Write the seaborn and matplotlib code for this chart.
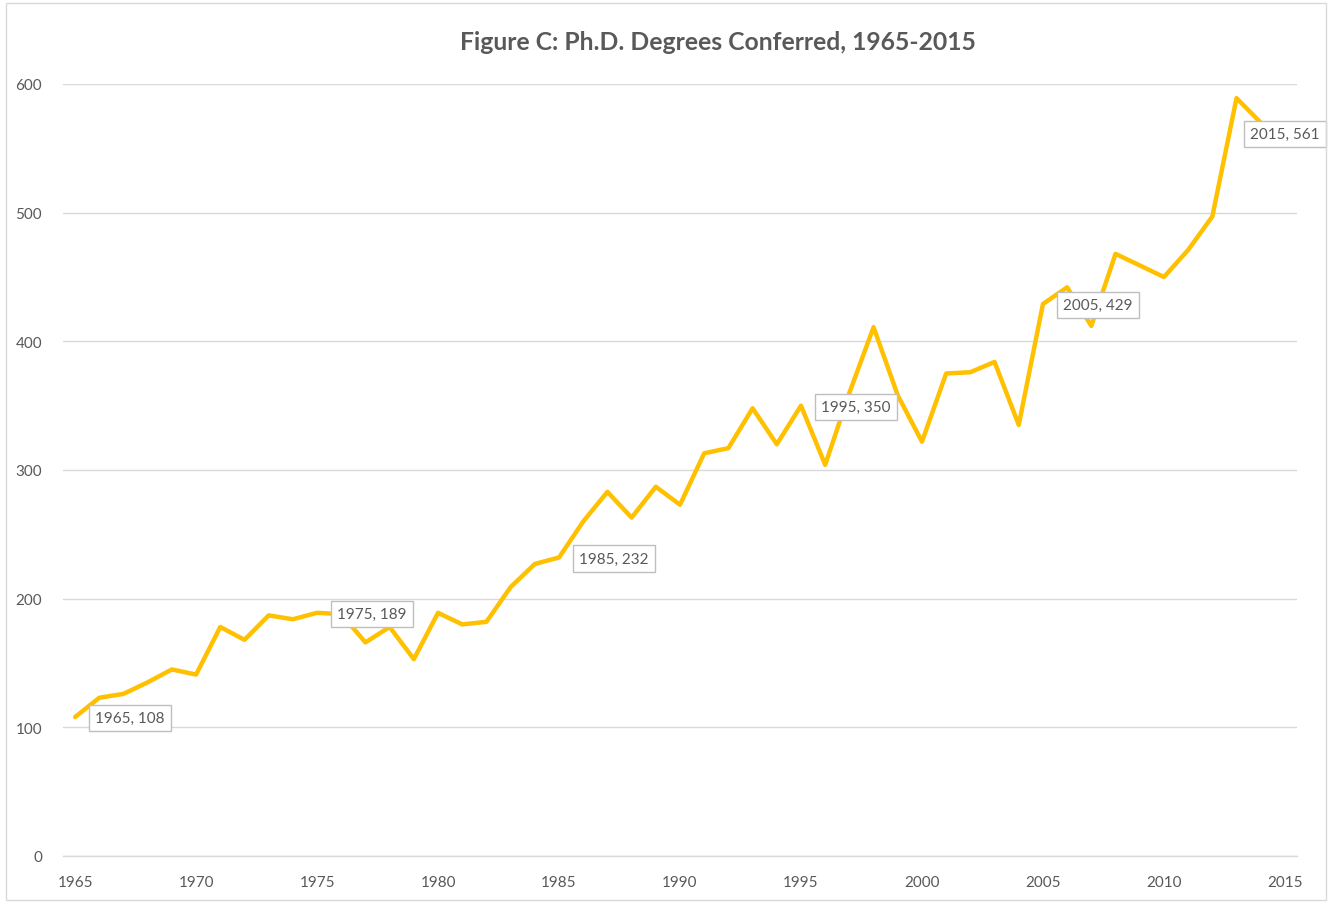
import numpy as np
import pandas as pd
import matplotlib
matplotlib.use("Agg")
import matplotlib.pyplot as plt
import seaborn as sns
from matplotlib.patches import Rectangle
from matplotlib.ticker import MultipleLocator

# values
years = list(range(1965, 2016))
degrees = [108, 123, 126, 135, 145, 141, 178, 168, 187, 184,
           189, 188, 166, 178, 153, 189, 180, 182, 209, 227,
           232, 260, 283, 263, 287, 273, 313, 317, 348, 320,
           350, 304, 360, 411, 358, 322, 375, 376, 384, 335,
           429, 442, 412, 468, 459, 450, 471, 497, 589, 570,
           561]
label_years = [1965, 1975, 1985, 1995, 2005, 2015]

df = pd.DataFrame({"year": years, "degrees": degrees})

sns.set_style("white")
plt.rcParams["font.family"] = ["Lato", "DejaVu Sans"]
grey = "#595959"
light = "#d9d9d9"

fig = plt.figure(figsize=(13.33, 9.03), dpi=100)
ax = fig.add_axes([63 / 1333, 1 - 857 / 903, 1234 / 1333, 772 / 903])

sns.lineplot(data=df, x="year", y="degrees", color="#FFC000", linewidth=3.2,
             ax=ax, zorder=3, clip_on=False)

ax.set_xlim(1964.5, 2015.5)
ax.set_ylim(0, 600)
ax.yaxis.set_major_locator(MultipleLocator(100))
ax.set_xticks(range(1965, 2016, 5))
ax.set_xticks(np.arange(1964.5, 2016, 1), minor=True)
ax.grid(axis="y", color=light, linewidth=1)
ax.set_axisbelow(True)
for side in ["top", "right", "left"]:
    ax.spines[side].set_visible(False)
ax.spines["bottom"].set_color(light)
ax.spines["bottom"].set_linewidth(1)
ax.tick_params(axis="x", which="major", length=0, pad=14, labelsize=11, labelcolor=grey)
ax.tick_params(axis="x", which="minor", length=5, width=1, color=light, direction="out")
ax.tick_params(axis="y", length=0, pad=15, labelsize=11, labelcolor=grey)
ax.set_xlabel("")
ax.set_ylabel("")

# data labels
for yr in label_years:
    val = degrees[years.index(yr)]
    if yr == years[-1]:
        xy_off, ha = (0, 0), "center"
    else:
        xy_off, ha = (20, -1), "left"
    ax.annotate(f"{yr}, {val}", xy=(yr, val), xytext=xy_off, textcoords="offset pixels",
                ha=ha, va="center", fontsize=11, color=grey, zorder=5,
                bbox=dict(boxstyle="square,pad=0.4", fc="white", ec="#bfbfbf", lw=1))

fig.text(718 / 1333, 1 - 42 / 903, "Figure C: Ph.D. Degrees Conferred, 1965-2015",
         ha="center", va="center", fontsize=17.8, fontweight="bold", color=grey)

# chart border
fig.patches.append(Rectangle((6 / 1333, 1 - 901 / 903), 1320 / 1333, 897 / 903,
                             transform=fig.transFigure, fill=False, ec=light, lw=1))

fig.savefig("out.png", dpi=100, facecolor="white")
